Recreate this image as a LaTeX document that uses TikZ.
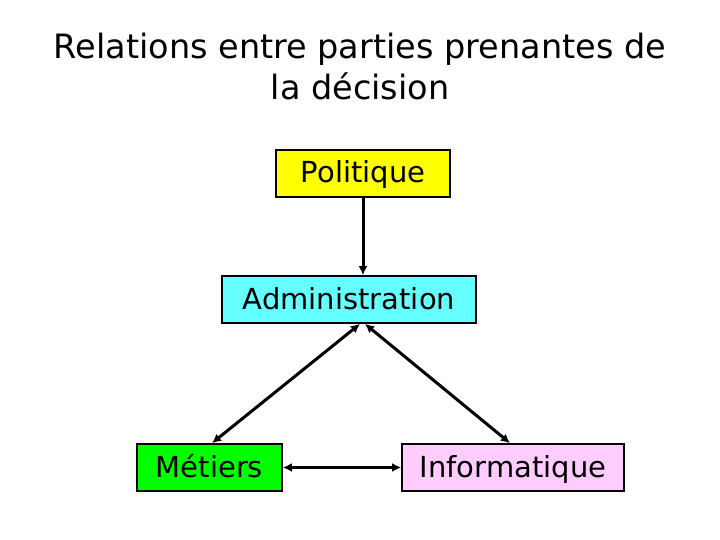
\documentclass[tikz,border=0pt]{standalone}
\usepackage{fontspec}
\setmainfont{DejaVu Sans}
\usetikzlibrary{arrows.meta}
\definecolor{polfill}{HTML}{FFFF00}
\definecolor{admfill}{HTML}{66FFFF}
\definecolor{metfill}{HTML}{00FF00}
\definecolor{inffill}{HTML}{FFCCFF}
\begin{document}
\begin{tikzpicture}[x=1pt,y=-1pt,
  box/.style={draw=black,line width=1.8pt,inner sep=0pt,text height=24pt,text depth=5pt,font=\fontsize{29}{34}\selectfont},
  conn/.style={line width=3pt,{Latex[length=9pt,width=9pt]}-{Latex[length=9pt,width=9pt]}},
  connend/.style={line width=3pt,-{Latex[length=9pt,width=9pt]}}]
\useasboundingbox (0,0) rectangle (720,540);
\node[font=\fontsize{33.5}{41}\selectfont,align=center] (title) at (360,67) {Relations entre parties prenantes de\\la décision};
\node[box,fill=polfill,minimum width=174pt,minimum height=47pt] (pol) at (363,173.5) {Politique};
\node[box,fill=admfill,minimum width=254pt,minimum height=47pt] (adm) at (349,299.5) {Administration};
\node[box,fill=metfill,minimum width=145pt,minimum height=47pt] (met) at (209.5,467.5) {Métiers};
\node[box,fill=inffill,minimum width=222pt,minimum height=47pt] (inf) at (513,467.5) {Informatique};
\draw[connend] (pol.south) -- ([xshift=14pt]adm.north);
\draw[conn] ([xshift=11pt]adm.south) -- ([xshift=2.5pt]met.north);
\draw[conn] ([xshift=16pt]adm.south) -- ([xshift=-3pt]inf.north);
\draw[conn] (met.east) -- (inf.west);
\end{tikzpicture}
\end{document}
